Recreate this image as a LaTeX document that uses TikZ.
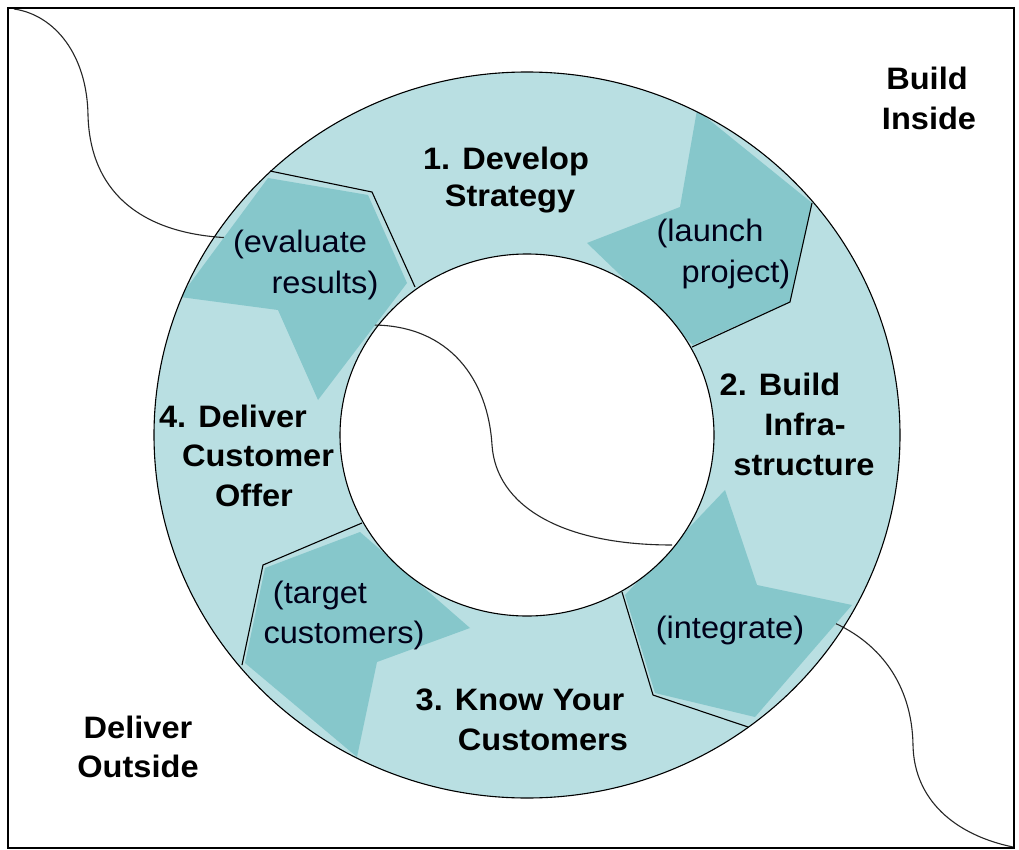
\documentclass[tikz,border=0pt]{standalone}
\usepackage{fontspec}
\setmainfont[FakeStretch=1.05]{Liberation Sans}
\definecolor{ringlight}{RGB}{185,223,226}
\definecolor{ringdark}{RGB}{134,199,203}
\tikzset{
  ringedge/.style={black, line width=1.1pt},
  seamline/.style={black, line width=1.1pt, line join=miter},
  linkcurve/.style={black!85, line width=1.1pt},
  darkarrow/.style={fill=ringdark, draw=none},
  titletext/.style={font=\fontsize{31}{37}\selectfont\bfseries, inner sep=0pt, anchor=base, text=black},
  acttext/.style={font=\fontsize{31}{37}\selectfont, inner sep=0pt, anchor=base, text=black!90!blue},
}
\begin{document}
\begin{tikzpicture}[x=1pt,y=-1pt]
\useasboundingbox (0,0) rectangle (1019,850);
\fill[white] (0,0) rectangle (1019,850);
% ring
\coordinate (ctr) at (527,435);
\fill[ringlight] (ctr) ellipse [x radius=373, y radius=363];
\fill[white] (ctr) ellipse [x radius=187, y radius=181];
% connecting curves
\coordinate (tlA) at (14,9);
\coordinate (tlB) at (235,238);
\draw[linkcurve] (tlA) .. controls (55,15) and (87,55) .. (88,115) .. controls (90,195) and (145,236) .. (tlB);
\coordinate (brA) at (825,619);
\coordinate (brB) at (1013,847);
\draw[linkcurve] (brA) .. controls (880,640) and (912,685) .. (913,745) .. controls (914,800) and (955,835) .. (brB);
\coordinate (inA) at (372,325);
\coordinate (inB) at (672,545);
\draw[linkcurve] (inA) .. controls (450,325) and (488,380) .. (492,445) .. controls (496,505) and (560,545) .. (inB);
% dark chevrons, clipped to the ring
\begin{scope}
\clip (900,435) arc[start angle=0, end angle=360, x radius=373, y radius=363] -- cycle
      (714,435) arc[start angle=0, end angle=-360, x radius=187, y radius=181] -- cycle;
\fill[darkarrow] (697,110) -- (812,203) -- (790,302) -- (693,345) -- (587,243) -- (680,207) -- cycle;
\fill[darkarrow] (268,178) -- (368,195) -- (407,283) -- (318,400) -- (278,310) -- (180,297) -- cycle;
\fill[darkarrow] (625,595) -- (655,693) -- (755,717) -- (852,605) -- (757,585) -- (725,490) -- cycle;
\fill[darkarrow] (360,532) -- (265,568) -- (245,663) -- (357,757) -- (377,662) -- (470,628) -- cycle;
\end{scope}
% seams between the four steps
\draw[seamline] (270,171) -- (372,192) -- (415,287);
\draw[seamline] (812,203) -- (790,302) -- (692,347);
\draw[seamline] (622,592) -- (653,695) -- (748,727);
\draw[seamline] (362,523) -- (263,565) -- (242,665);
% ring outlines
\draw[ringedge] (ctr) ellipse [x radius=373, y radius=363];
\draw[ringedge] (ctr) ellipse [x radius=187, y radius=181];
% step titles
\node[titletext] (s1a) at (506,170) {1. Develop};
\node[titletext] (s1b) at (510,207) {Strategy};
\node[titletext] (s2a) at (780,395) {2. Build};
\node[titletext] (s2b) at (805,435) {Infra-};
\node[titletext] (s2c) at (804,475) {structure};
\node[titletext] (s3a) at (520,710) {3. Know Your};
\node[titletext] (s3b) at (543,750) {Customers};
\node[titletext] (s4a) at (233,427) {4. Deliver};
\node[titletext] (s4b) at (258,466) {Customer};
\node[titletext] (s4c) at (254,506) {Offer};
\node[titletext] (bia) at (927,90) {Build};
\node[titletext] (bib) at (929,130) {Inside};
\node[titletext] (doa) at (138,738) {Deliver};
\node[titletext] (dob) at (138,777) {Outside};
% activities
\node[acttext] (a1a) at (300,253) {(evaluate};
\node[acttext] (a1b) at (325,293) {results)};
\node[acttext] (a2a) at (710,242) {(launch};
\node[acttext] (a2b) at (736,282) {project)};
\node[acttext] (a3) at (730,638) {(integrate)};
\node[acttext] (a4a) at (320,603) {(target};
\node[acttext] (a4b) at (344,643) {customers)};
% frame
\draw[black, line width=2.2pt] (8,8) rectangle (1014,848);
\end{tikzpicture}
\end{document}
